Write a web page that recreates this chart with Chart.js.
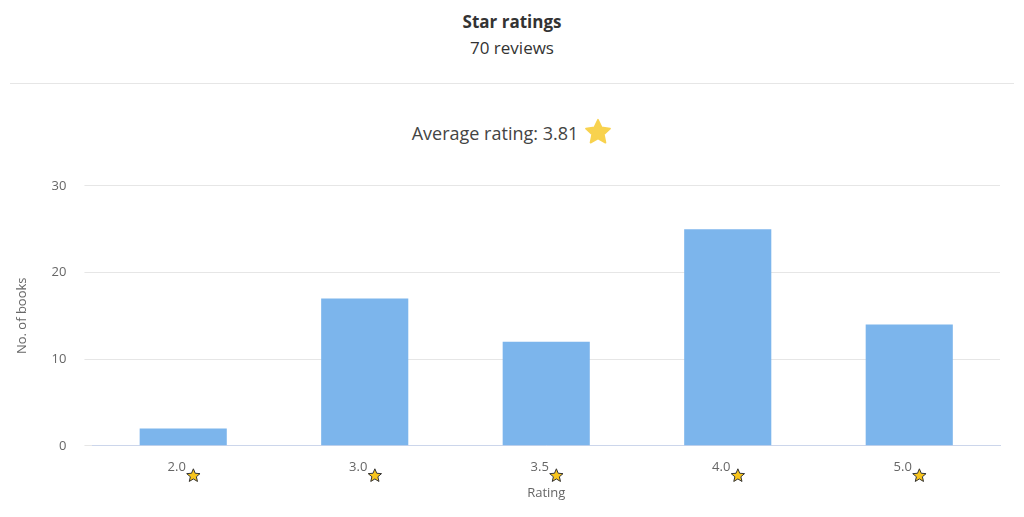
<!DOCTYPE html>
<html><head><meta charset="utf-8">
<script src="https://cdn.jsdelivr.net/npm/chart.js@4"></script>
<style>
body{margin:0;font-family:"Open Sans",sans-serif;background:#fff;color:#333;}
#hdr{text-align:center;height:84px;border-bottom:1px solid #e6e6e6;margin:0 10px;box-sizing:border-box;}
#t1{font-weight:bold;font-size:17px;padding-top:10px;line-height:24px;}
#t2{font-size:17px;line-height:28px;}
#avg{text-align:center;font-size:18px;margin-top:34px;height:28px;line-height:28px;color:#444;}
#avg svg{vertical-align:-6px;margin-left:6px;}
#wrap{position:absolute;left:0;top:160px;width:1014px;height:357px;}
</style></head><body>
<div id="hdr"><div id="t1">Star ratings</div><div id="t2">70 reviews</div></div>
<div id="avg">Average rating: 3.81<svg width="28" height="28" viewBox="0 0 24 24"><path d="M12 1.5l3.1 6.6 7.2.9-5.3 5 1.4 7.1L12 17.6l-6.4 3.5 1.4-7.1-5.3-5 7.2-.9z" fill="#f8d24e" stroke="#f8d24e" stroke-linejoin="round" stroke-width="1.5"/></svg></div>
<div id="wrap"><canvas id="c"></canvas></div>
<script>
const categories=["2.0","3.0","3.5","4.0","5.0"];
const counts=[2,17,12,25,14];
const yTicks=[0,10,20,30];
const EM='\u2003';
function star(ctx,cx,cy,r){ctx.beginPath();for(let i=0;i<10;i++){const a=-Math.PI/2+i*Math.PI/5;const rr=i%2?r*0.45:r;ctx.lineTo(cx+rr*Math.cos(a),cy+rr*Math.sin(a));}ctx.closePath();ctx.fillStyle='#f8c51c';ctx.fill();ctx.strokeStyle='#333';ctx.lineWidth=1;ctx.stroke();}
const starPlugin={id:'st',afterDraw(ch){const ctx=ch.ctx,x=ch.scales.x;ctx.save();ctx.font='13px "Open Sans"';
categories.forEach((c,i)=>{const cx=x.getPixelForValue(i);const w=ctx.measureText(c+EM).width;const e=ctx.measureText(EM).width;star(ctx,cx+w/2-e/2+1,x.bottom-x.height+ 30,7);});ctx.restore();}};
new Chart(document.getElementById('c'),{type:'bar',
data:{labels:categories.map(c=>c+EM),datasets:[{data:counts,backgroundColor:'#7cb5ec',categoryPercentage:1,barPercentage:0.48}]},
options:{responsive:true,maintainAspectRatio:false,animation:false,
layout:{padding:{left:10,right:14,top:8,bottom:12}},
plugins:{legend:{display:false},tooltip:{enabled:false}},
scales:{
x:{grid:{display:false},border:{color:'#ccd6eb'},ticks:{color:'#666',font:{family:'Open Sans',size:13},padding:6},
 title:{display:true,text:'Rating',color:'#666',font:{family:'Open Sans',size:13}}},
y:{min:0,max:30,afterBuildTicks(s){s.ticks=yTicks.map(v=>({value:v}));},grid:{color:'#e6e6e6'},border:{display:false},
 ticks:{color:'#666',font:{family:'Open Sans',size:13},padding:18},
 title:{display:true,text:'No. of books',color:'#666',font:{family:'Open Sans',size:13}}}}},
plugins:[starPlugin]});
</script></body></html>
